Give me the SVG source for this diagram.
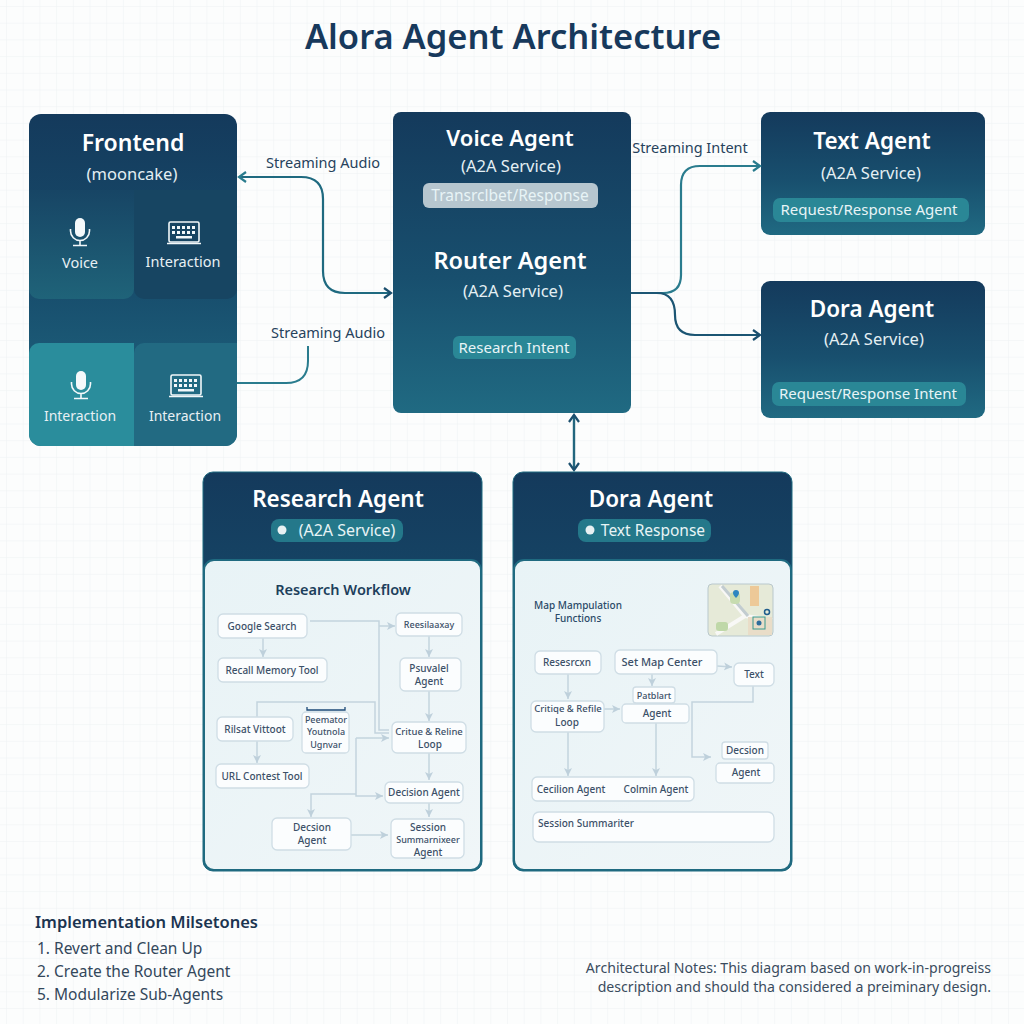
<svg xmlns="http://www.w3.org/2000/svg" width="1024" height="1024" viewBox="0 0 1024 1024">
<style>
text{font-family:"Noto Sans","Open Sans","Liberation Sans",sans-serif;text-anchor:middle}
.h{fill:#fff;font-weight:600}
.s{fill:#e4eff3;font-size:16.5px}
.p{fill:#e8f4f6;font-size:15px}
.c{fill:#e8f0f4;font-size:14.5px}
.lb{fill:#27425c;font-size:14.5px}
.pill{fill:#2a8796}
.n{fill:#fbfdfe;stroke:#cfdde5;stroke-width:1.3}
.t{fill:#3b5068;font-size:10px;font-weight:500}
.f{fill:none;stroke:#c3d4de;stroke-width:1.5}
.ic{fill:none;stroke:#f2f8fa;stroke-width:1.6}
</style>
<defs>
<pattern id="grid" width="16.7" height="16.7" patternUnits="userSpaceOnUse" x="6" y="6"><path d="M16.7 0H0V16.7" fill="none" stroke="#eef2f4" stroke-width="1"/></pattern>
<linearGradient id="dk" x1="0" y1="0" x2="0" y2="1"><stop offset="0" stop-color="#143a5c"/><stop offset="0.55" stop-color="#184f6e"/><stop offset="1" stop-color="#206a82"/></linearGradient>
<linearGradient id="hd" x1="0" y1="0" x2="0" y2="1"><stop offset="0" stop-color="#143a5c"/><stop offset="1" stop-color="#1a5f7c"/></linearGradient>
<linearGradient id="c1" x1="0" y1="0" x2="0" y2="1"><stop offset="0" stop-color="#174565"/><stop offset="1" stop-color="#1f6379"/></linearGradient>
<linearGradient id="body" x1="0" y1="0" x2="1" y2="1"><stop offset="0" stop-color="#e8f3f6"/><stop offset="1" stop-color="#f0f6f8"/></linearGradient>
<marker id="at" markerWidth="10" markerHeight="12" refX="8" refY="6" orient="auto-start-reverse" markerUnits="userSpaceOnUse"><path d="M1 1L8 6L1 11" fill="none" stroke="#2a7c8e" stroke-width="2.2"/></marker>
<marker id="an" markerWidth="10" markerHeight="12" refX="8" refY="6" orient="auto-start-reverse" markerUnits="userSpaceOnUse"><path d="M1 1L8 6L1 11" fill="none" stroke="#1b4f6e" stroke-width="2.2"/></marker>
<marker id="al" markerWidth="9" markerHeight="8" refX="8" refY="4" orient="auto" markerUnits="userSpaceOnUse"><path d="M0 0L8 4L0 8L2 4Z" fill="#bed0db"/></marker>
<g id="mic"><rect x="-5" y="-14" width="10" height="19" rx="5" fill="#f4f9fb" stroke="none"/><path class="ic" d="M-9.500 -3V-1A9.500 9.500 0 0 0 9.500 -1V-3M0 9V13M-7 13.500H7"/></g>
<g id="kbd"><rect x="-15" y="-11" width="30" height="20" rx="1.500" class="ic"/><path class="ic" d="M-17 10.500H17"/><path d="M-12 -7h3v3h-3zM-7 -7h3v3h-3zM-2 -7h3v3h-3zM3 -7h3v3h-3zM8 -7h3v3h-3zM-12 -2h3v3h-3zM-7 -2h3v3h-3zM-2 -2h3v3h-3zM3 -2h3v3h-3zM8 -2h3v3h-3zM-8 3h16v2.500h-16z" fill="#f2f8fa"/></g>
</defs>
<rect width="1024" height="1024" fill="#fcfdfd"/>
<rect width="1024" height="1024" fill="url(#grid)"/>
<text x="513" y="49" style="font-size:34.500px;font-weight:600;fill:#17395c">Alora Agent Architecture</text>

<g id="frontend">
<rect x="29" y="114" width="208" height="332" rx="12" fill="url(#dk)"/>
<path d="M29 190H134V289a10 10 0 0 1 -10 10H39a10 10 0 0 1 -10 -10Z" fill="url(#c1)"/>
<path d="M134 190H237V289a10 10 0 0 1 -10 10H144a10 10 0 0 1 -10 -10Z" fill="#174562"/>
<path d="M39 343H134V446H41a12 12 0 0 1 -12 -12V353a10 10 0 0 1 10 -10Z" fill="#2a8d9c"/>
<path d="M144 343H237V434a12 12 0 0 1 -12 12H134V353a10 10 0 0 1 10 -10Z" fill="#226a82"/>
<text x="133" y="151" class="h" style="font-size:23px">Frontend</text>
<text x="132" y="180" class="s">(mooncake)</text>
<use href="#mic" x="80" y="232"/><use href="#kbd" x="184" y="233"/>
<use href="#mic" x="81" y="385"/><use href="#kbd" x="186" y="386"/>
<text x="80" y="268" class="c">Voice</text><text x="183" y="267" class="c">Interaction</text>
<text x="80" y="421" class="c" style="font-size:14px">Interaction</text><text x="185" y="421" class="c" style="font-size:14px">Interaction</text>
</g>

<g id="voice-router-agent">
<rect x="393" y="112" width="238" height="301" rx="8" fill="url(#dk)"/>
<text x="510" y="146" class="h" style="font-size:22px">Voice Agent</text>
<text x="511" y="172" class="s">(A2A Service)</text>
<rect x="423" y="183" width="175" height="25" rx="6" fill="#b6c6cf"/>
<text x="510" y="201" class="p" style="font-size:15.500px">Transrclbet/Response</text>
<text x="510" y="269" class="h" style="font-size:23.500px">Router Agent</text>
<text x="513" y="297" class="s">(A2A Service)</text>
<rect x="453" y="336" width="123" height="23" rx="6" class="pill"/>
<text x="514" y="353" class="p">Research Intent</text>
</g>

<g id="text-agent">
<rect x="761" y="112" width="224" height="123" rx="9" fill="url(#dk)"/>
<text x="872" y="149" class="h" style="font-size:22.500px">Text Agent</text>
<text x="871" y="179" class="s">(A2A Service)</text>
<rect x="773" y="198" width="196" height="24" rx="7" class="pill"/>
<text x="869" y="215" class="p">Request/Response Agent</text>
</g>

<g id="dora-agent">
<rect x="761" y="281" width="224" height="137" rx="9" fill="url(#dk)"/>
<text x="872" y="317" class="h" style="font-size:22.500px">Dora Agent</text>
<text x="874" y="345" class="s">(A2A Service)</text>
<rect x="772" y="382" width="194" height="24" rx="7" class="pill"/>
<text x="868" y="399" class="p">Request/Response Intent</text>
</g>

<g id="connectors">
<path d="M391 293H345Q323 293 323 271V199Q323 177 301 177H239" fill="none" stroke="#1f6a80" stroke-width="2.200" marker-start="url(#an)" marker-end="url(#at)"/>
<path d="M237 383H286Q308 383 308 361V346" fill="none" stroke="#2a7c8e" stroke-width="2"/>
<path d="M631 293H663Q681 293 681 275V185Q681 166 700 166H760" fill="none" stroke="#2a7c8e" stroke-width="2.200" marker-end="url(#at)"/>
<path d="M631 293H657Q675 293 675 315Q675 335 695 335H760" fill="none" stroke="#1b5573" stroke-width="2.200" marker-end="url(#an)"/>
<path d="M574 415V470" fill="none" stroke="#22667e" stroke-width="2.400" marker-start="url(#an)" marker-end="url(#an)"/>
<text x="323" y="168" class="lb">Streaming Audio</text>
<text x="328" y="338" class="lb">Streaming Audio</text>
<text x="690" y="153" class="lb">Streaming Intent</text>
</g>

<g id="research-agent">
<rect x="203" y="472" width="279" height="399" rx="10" fill="url(#hd)" stroke="#1f6a80" stroke-width="1"/>
<rect x="204" y="560" width="277" height="310" rx="10" fill="url(#body)" stroke="#1f6a80" stroke-width="2"/>
<text x="338" y="507" class="h" style="font-size:22.500px">Research Agent</text>
<rect x="271" y="519" width="132" height="23" rx="8" fill="#24788a"/>
<circle cx="282" cy="530" r="4.500" fill="#e8f1f3"/>
<text x="347" y="536" class="p" style="font-size:16px">(A2A Service)</text>
<text x="343" y="595" style="font-size:14.500px;font-weight:600;fill:#1d3f5c">Research Workflow</text>
</g>

<g id="research-workflow-lines">
<path class="f" d="M263 638V657" marker-end="url(#al)"/>
<path class="f" d="M310 621H379V730H389"/>
<path class="f" d="M379 626H395" marker-end="url(#al)"/>
<path class="f" d="M429 636V657" marker-end="url(#al)"/>
<path class="f" d="M429 691V721" marker-end="url(#al)"/>
<path class="f" d="M429 753V780" marker-end="url(#al)"/>
<path class="f" d="M429 803V817" marker-end="url(#al)"/>
<path class="f" d="M257 717V702H375V733H389"/>
<path class="f" d="M257 741V763" marker-end="url(#al)"/>
<path class="f" d="M356 738H389" marker-end="url(#al)"/>
<path class="f" d="M356 738V796H383" marker-end="url(#al)"/>
<path class="f" d="M356 794H311V817" marker-end="url(#al)"/>
<path class="f" d="M351 835H388" marker-end="url(#al)"/>
</g>

<g id="google-search"><rect class="n" x="218" y="614" width="89" height="24" rx="5"/><text class="t" x="262" y="630">Google Search</text></g>
<g id="recall-memory"><rect class="n" x="218" y="658" width="109" height="24" rx="5"/><text class="t" x="272" y="674">Recall Memory Tool</text></g>
<g id="rilsat"><rect class="n" x="217" y="717" width="76" height="24" rx="5"/><text class="t" x="255" y="733">Rilsat Vittoot</text></g>
<g id="peemator"><rect class="n" x="302" y="712" width="47" height="41" rx="4"/><path d="M307 707V710H345V707" fill="none" stroke="#1d4a78" stroke-width="1.300"/>
<text class="t" x="326" y="723" style="font-size:9px">Peemator</text><text class="t" x="326" y="735" style="font-size:9px">Youtnola</text><text class="t" x="326" y="748" style="font-size:9px">Ugnvar</text></g>
<g id="url-contest"><rect class="n" x="216" y="764" width="93" height="24" rx="5"/><text class="t" x="262" y="780">URL Contest Tool</text></g>
<g id="reesilaaxay"><rect class="n" x="396" y="613" width="66" height="23" rx="5"/><text class="t" x="429" y="628" style="font-size:9px">Reesilaaxay</text></g>
<g id="psuvalel"><rect class="n" x="400" y="658" width="61" height="33" rx="5"/><text class="t" x="429" y="672">Psuvalel</text><text class="t" x="429" y="685">Agent</text></g>
<g id="critue"><rect class="n" x="392" y="722" width="74" height="31" rx="5"/><text class="t" x="429" y="735" style="font-size:9.500px">Critue &amp; Reline</text><text class="t" x="430" y="748">Loop</text></g>
<g id="decision-1"><rect class="n" x="385" y="782" width="78" height="21" rx="5"/><text class="t" x="424" y="796">Decision Agent</text></g>
<g id="decsion-2"><rect class="n" x="272" y="818" width="79" height="32" rx="5"/><text class="t" x="312" y="831">Decsion</text><text class="t" x="312" y="844">Agent</text></g>
<g id="session-1"><rect class="n" x="391" y="819" width="73" height="39" rx="5"/><text class="t" x="428" y="831">Session</text><text class="t" x="428" y="843" style="font-size:9px">Summarnixeer</text><text class="t" x="428" y="856">Agent</text></g>

<g id="dora-agent-lower">
<rect x="513" y="472" width="279" height="399" rx="10" fill="url(#hd)" stroke="#1f6a80" stroke-width="1"/>
<rect x="514" y="560" width="277" height="310" rx="10" fill="url(#body)" stroke="#1f6a80" stroke-width="2"/>
<text x="651" y="507" class="h" style="font-size:22.500px">Dora Agent</text>
<rect x="578" y="519" width="133" height="23" rx="8" fill="#24788a"/>
<circle cx="590" cy="530" r="4.500" fill="#e8f1f3"/>
<text x="653" y="536" class="p" style="font-size:15.500px">Text Response</text>
<text x="578" y="609" class="t" style="fill:#2a4a68">Map Mampulation</text>
<text x="578" y="622" class="t" style="fill:#2a4a68">Functions</text>
</g>

<g id="map">
<rect x="708" y="584" width="65" height="52" rx="4" fill="#e6ead8" stroke="#b9c8cc" stroke-width="1"/>
<path d="M720 586L745 616M745 616L716 634M745 616L772 620" stroke="#f8f8f6" stroke-width="4" fill="none"/>
<path d="M722 586L748 616" stroke="#c2ccd0" stroke-width="3" fill="none"/>
<rect x="750" y="586" width="9" height="20" fill="#edc998"/>
<rect x="730" y="592" width="10" height="12" rx="4" fill="#c7dcb0"/>
<rect x="716" y="622" width="12" height="9" rx="3" fill="#bfd8a8"/>
<rect x="748" y="617" width="24" height="18" fill="#e9ddc8"/>
<path d="M733 593a3 3 0 1 1 6 0c0 2-3 5-3 5s-3-3-3-5z" fill="#2b86c0"/>
<rect x="753" y="617" width="12" height="12" fill="none" stroke="#3a9a8e" stroke-width="1"/>
<circle cx="759" cy="623" r="2.500" fill="#2d6d9c"/>
<circle cx="767" cy="612" r="2.500" fill="none" stroke="#1f5c8c" stroke-width="1.500"/>
</g>

<g id="dora-workflow-lines">
<path class="f" d="M568 674V699" marker-end="url(#al)"/>
<path class="f" d="M717 666L732 667" marker-end="url(#al)"/>
<path class="f" d="M652 674V686" marker-end="url(#al)"/>
<path class="f" d="M604 709H620" marker-end="url(#al)"/>
<path class="f" d="M656 723V776" marker-end="url(#al)"/>
<path class="f" d="M568 732V776" marker-end="url(#al)"/>
<path class="f" d="M753 686V702H692V757H711" marker-end="url(#al)"/>
</g>

<g id="resesrcxn"><rect class="n" x="535" y="651" width="66" height="23" rx="5"/><text class="t" x="567" y="666">Resesrcxn</text></g>
<g id="set-map-center"><rect class="n" x="615" y="650" width="102" height="24" rx="5"/><text class="t" x="662" y="666" style="font-size:11px">Set Map Center</text></g>
<g id="text-node"><rect class="n" x="734" y="663" width="40" height="23" rx="5"/><text class="t" x="754" y="678">Text</text></g>
<g id="patblart"><rect class="n" x="633" y="687" width="42" height="16" rx="3"/><text class="t" x="654" y="699" style="font-size:9px">Patblart</text></g>
<g id="agent-a"><rect class="n" x="622" y="704" width="67" height="19" rx="4"/><text class="t" x="657" y="717">Agent</text></g>
<g id="critiqe"><rect class="n" x="531" y="701" width="73" height="31" rx="5"/><text class="t" x="568" y="712" style="font-size:9.500px">Critiqe &amp; Refile</text><text class="t" x="567" y="726">Loop</text></g>
<g id="decsion-3"><rect class="n" x="722" y="742" width="46" height="17" rx="3"/><text class="t" x="745" y="754">Decsion</text></g>
<g id="agent-b"><rect class="n" x="716" y="763" width="58" height="20" rx="4"/><text class="t" x="746" y="776">Agent</text></g>
<g id="cecilion-row"><rect class="n" x="532" y="777" width="162" height="24" rx="5"/><text class="t" x="571" y="793">Cecilion Agent</text><text class="t" x="656" y="793">Colmin Agent</text></g>
<g id="session-2"><rect class="n" x="533" y="812" width="241" height="30" rx="6"/><text class="t" x="586" y="827">Session Summariter</text></g>

<g id="notes">
<text x="35" y="928" style="text-anchor:start;font-size:16.500px;font-weight:600;fill:#1b3450">Implementation Milsetones</text>
<text x="37" y="954" style="text-anchor:start;font-size:15.500px;fill:#33475b">1. Revert and Clean Up</text>
<text x="37" y="977" style="text-anchor:start;font-size:15.500px;fill:#33475b">2. Create the Router Agent</text>
<text x="37" y="1000" style="text-anchor:start;font-size:15.500px;fill:#33475b">5. Modularize Sub-Agents</text>
<text x="991" y="973" style="text-anchor:end;font-size:14.100px;fill:#3a4c5e">Architectural Notes: This diagram based on work-in-progreiss</text>
<text x="991" y="992" style="text-anchor:end;font-size:14.100px;fill:#3a4c5e">description and should tha considered a preiminary design.</text>
</g>
</svg>
